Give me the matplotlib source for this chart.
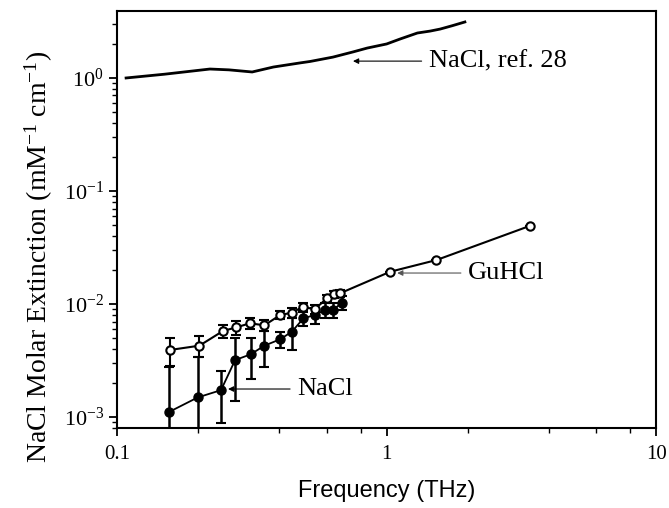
import matplotlib
matplotlib.use('Agg')
import matplotlib.pyplot as plt
import numpy as np
from matplotlib.ticker import LogLocator, FixedLocator, FuncFormatter, NullFormatter

plt.rcParams['font.family'] = 'Liberation Serif'
plt.rcParams['mathtext.fontset'] = 'custom'
plt.rcParams['mathtext.rm'] = 'Liberation Serif'
plt.rcParams['mathtext.it'] = 'Liberation Serif:italic'

# Referencia 28 (NaCl)
ref_f = [0.108, 0.15, 0.221, 0.26, 0.317, 0.38, 0.478, 0.52, 0.632, 0.75,
         0.847, 1.0, 1.12, 1.30, 1.45, 1.58, 1.75, 1.95]
ref_e = [1.0, 1.08, 1.2, 1.18, 1.13, 1.25, 1.36, 1.40, 1.53, 1.7,
         1.84, 2.0, 2.21, 2.50, 2.6, 2.71, 2.9, 3.13]

# GuHCl (circulos abiertos)
gu_f = [0.157, 0.202, 0.247, 0.277, 0.311, 0.352, 0.403, 0.445, 0.489,
        0.540, 0.600, 0.635, 0.672, 1.03, 1.53, 3.41]
gu_e = [0.00392, 0.00428, 0.00577, 0.00622, 0.00675, 0.00648, 0.0080,
        0.00838, 0.00946, 0.00898, 0.0112, 0.0122, 0.01245, 0.0193,
        0.0245, 0.0493]
gu_err = [0.0011, 0.0009, 0.0008, 0.0009, 0.0007, 0.0007, 0.0007, 0.0008,
          0.0008, 0.0008, 0.0008, 0.0008, 0.0008, 0, 0, 0]

# NaCl (circulos llenos)
na_f = [0.156, 0.199, 0.243, 0.274, 0.313, 0.352, 0.403, 0.445, 0.491,
        0.540, 0.592, 0.631, 0.683]
na_e = [0.00111, 0.00149, 0.00173, 0.00319, 0.00359, 0.00428, 0.00488,
        0.00569, 0.00746, 0.0080, 0.00885, 0.00885, 0.01026]
na_err = [0.00168, 0.0019, 0.00085, 0.0018, 0.0014, 0.0015, 0.0008,
          0.0018, 0.0011, 0.0013, 0.0014, 0.0014, 0.0014]

fig = plt.figure(figsize=(6.69, 5.08), dpi=100)
ax = fig.add_axes([0.175, 0.1575, 0.806, 0.8205])

ax.plot(ref_f, ref_e, color='black', lw=2)

ax.errorbar(na_f, na_e, yerr=na_err, fmt='o-', color='black', mfc='black',
            ms=6.5, lw=1.3, elinewidth=1.8, capsize=3.5, capthick=1.5)
ax.errorbar(gu_f, gu_e, yerr=gu_err, fmt='o-', color='black', mfc='white',
            mew=1.5, ms=6, lw=1.5, elinewidth=1.5, capsize=3.5, capthick=1.5)

ax.set_xscale('log')
ax.set_yscale('log')
ax.set_xlim(0.1, 10)
ax.set_ylim(8e-4, 3.9)

ax.xaxis.set_major_locator(FixedLocator([0.1, 1, 10]))
ax.xaxis.set_minor_locator(FixedLocator([0.2, 0.4, 0.6, 0.8, 2, 4, 6, 8]))
ax.xaxis.set_major_formatter(FuncFormatter(lambda v, p: '%g' % v))
ax.xaxis.set_minor_formatter(NullFormatter())
ax.yaxis.set_major_locator(LogLocator(base=10, numticks=10))
ax.yaxis.set_minor_locator(LogLocator(base=10, subs=np.arange(2, 10), numticks=20))
ax.yaxis.set_major_formatter(FuncFormatter(lambda v, p: r'$10^{%d}$' % round(np.log10(v))))
ax.yaxis.set_minor_formatter(NullFormatter())

ax.tick_params(which='major', direction='out', length=6, width=1.3, labelsize=15)
ax.tick_params(axis='y', which='major', labelsize=16)
ax.tick_params(axis='x', which='major', pad=6)
ax.tick_params(which='minor', direction='out', length=3.5, width=1.0)
for s in ax.spines.values():
    s.set_linewidth(1.5)

ax.set_xlabel('Frequency (THz)', fontsize=17, family='Liberation Sans', labelpad=12)
ax.set_ylabel(r'NaCl Molar Extinction (mM$^{\mathregular{-1}}$ cm$^{\mathregular{-1}}$)', fontsize=20)
ax.yaxis.set_label_coords(-0.115, 0.41)

# Anotaciones
ax.annotate('NaCl, ref. 28', xy=(0.75, 1.41), xytext=(1.43, 1.41),
            fontsize=19, va='center',
            arrowprops=dict(arrowstyle='-|>', color='black', lw=0.8, mutation_scale=8,
                            shrinkA=3, shrinkB=0))
ax.annotate('GuHCl', xy=(1.094, 0.0188), xytext=(2.0, 0.0188),
            fontsize=19, va='center',
            arrowprops=dict(arrowstyle='-|>', color='#555555', lw=0.8, mutation_scale=8,
                            shrinkA=3, shrinkB=0))
ax.annotate('NaCl', xy=(0.258, 0.00177), xytext=(0.465, 0.00177),
            fontsize=19, va='center',
            arrowprops=dict(arrowstyle='-|>', color='black', lw=0.8, mutation_scale=8,
                            shrinkA=3, shrinkB=0))

plt.savefig('out.png', dpi=100)
